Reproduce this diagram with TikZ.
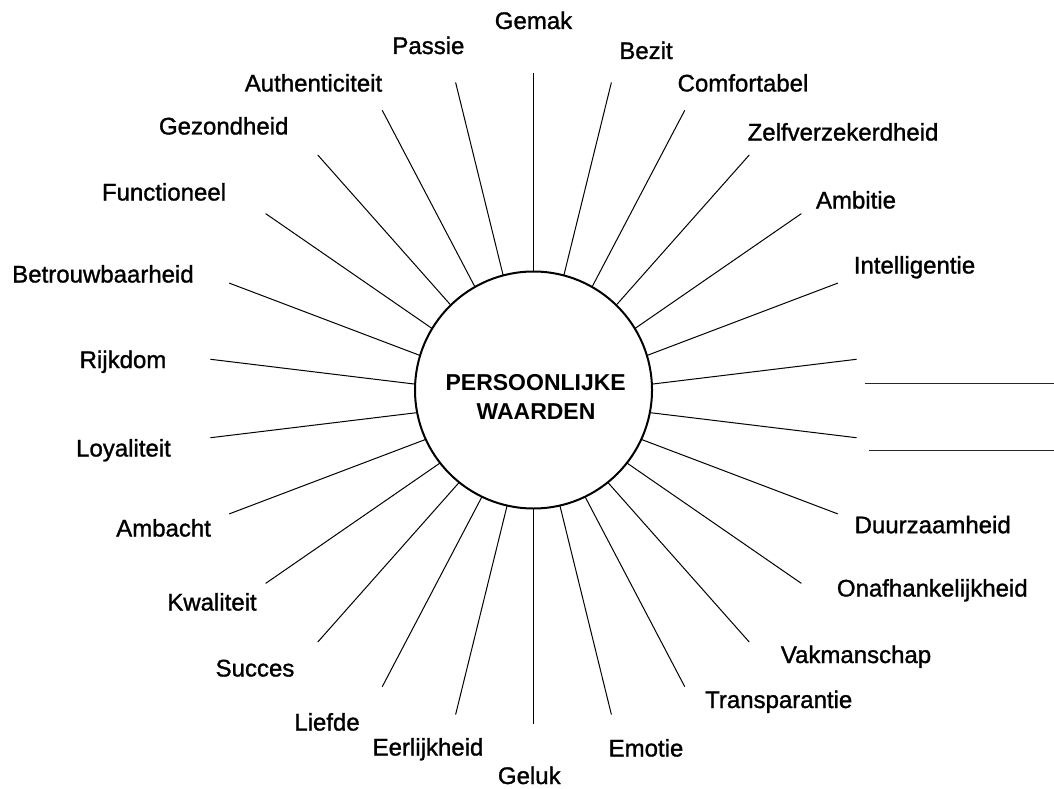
\documentclass[tikz,border=0pt]{standalone}
\usepackage{fontspec}
\setmainfont{Liberation Sans}
\newfontfamily\labfont[FakeBold=1.2]{Liberation Sans}
\begin{document}
\begin{tikzpicture}[x=1pt,y=-1pt,
  lab/.style={font=\labfont\fontsize{24}{28}\selectfont, inner sep=0pt, text height=17pt, text depth=0pt, anchor=center},
  spoke/.style={draw=black, line width=1pt},
  core/.style={circle, draw=black, line width=2pt, fill=white, minimum size=237pt, inner sep=0pt},
  ttl/.style={font=\bfseries\fontsize{23}{29}\selectfont, inner sep=0pt, anchor=base},
  blank/.style={draw=black!85, line width=1.3pt}]
\useasboundingbox (0,0) rectangle (1054,789);
\coordinate (hub) at (533.5,398.5);
\foreach \k in {0,...,25}{
  \pgfmathsetmacro{\ang}{90-\k*360/26}
  \coordinate (s\k) at ({533.5+325.5*cos(\ang)},{398.5-325.5*sin(\ang)});
  \draw[spoke] (hub) -- (s\k);
}
\node[core] (circ) at (533.5,390) {};
\node[ttl] (t1) at (535.7,390) {PERSOONLIJKE};
\node[ttl] (t2) at (536,419) {WAARDEN};
% labels
\node[lab] (l0) at (533.5,20.5) {Gemak};
\node[lab] (l1) at (646,50.5) {Bezit};
\node[lab] (l2) at (743,83) {Comfortabel};
\node[lab] (l3) at (843,132) {Zelfverzekerdheid};
\node[lab] (l4) at (856,200) {Ambitie};
\node[lab] (l5) at (914.5,265) {Intelligentie};
\node[lab] (l8) at (932.7,524.7) {Duurzaamheid};
\node[lab] (l9) at (932.3,588) {Onafhankelijkheid};
\node[lab] (l10) at (856,654.5) {Vakmanschap};
\node[lab] (l11) at (778.7,699.5) {Transparantie};
\node[lab] (l12) at (646,748) {Emotie};
\node[lab] (l13) at (529.3,775.5) {Geluk};
\node[lab] (l14) at (428,747) {Eerlijkheid};
\node[lab] (l15) at (327,722) {Liefde};
\node[lab] (l16) at (255,668) {Succes};
\node[lab] (l17) at (212,602) {Kwaliteit};
\node[lab] (l18) at (163.6,528) {Ambacht};
\node[lab] (l19) at (123.5,448) {Loyaliteit};
\node[lab] (l20) at (123,359.5) {Rijkdom};
\node[lab] (l21) at (103,274) {Betrouwbaarheid};
\node[lab] (l22) at (164,192) {Functioneel};
\node[lab] (l23) at (223.7,126) {Gezondheid};
\node[lab] (l24) at (313.5,83) {Authenticiteit};
\node[lab] (l25) at (428.4,45.5) {Passie};
% blank answer lines
\coordinate (b1s) at (865,383.3);
\coordinate (b1e) at (1054,383.3);
\coordinate (b2s) at (869,450.7);
\coordinate (b2e) at (1054,450.7);
\draw[blank] (b1s) -- (b1e);
\draw[blank] (b2s) -- (b2e);
\end{tikzpicture}
\end{document}
